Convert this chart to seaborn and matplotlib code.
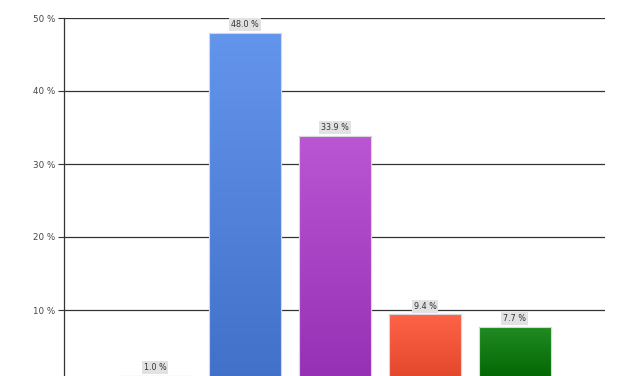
import numpy as np
import pandas as pd
import matplotlib
matplotlib.use("Agg")
import matplotlib.pyplot as plt
import seaborn as sns
from matplotlib.colors import LinearSegmentedColormap

categories = ["Cat A", "Cat B", "Cat C", "Cat D", "Cat E"]
values = [1.0, 48.0, 33.9, 9.4, 7.7]
top_colors = ["#FFD700", "#6495ED", "#BA55D3", "#FF6347", "#228B22"]
bottom_colors = ["#DAA520", "#4070C8", "#9530B5", "#E0452A", "#006400"]
yticks = [10, 20, 30, 40, 50]
ytick_labels = ["10 %", "20 %", "30 %", "40 %", "50 %"]

sns.set_theme(style="white")
plt.rcParams['font.family'] = ['DejaVu Sans']

W, H = 627, 376
fig = plt.figure(figsize=(W / 100, H / 100), dpi=100)
ax = fig.add_axes([64 / W, (H - 383) / H, (605 - 64) / W, (383 - 18) / H])

df = pd.DataFrame({"cat": categories, "val": values})
sns.barplot(data=df, x="cat", y="val", hue="cat", palette=top_colors,
            legend=False, width=0.8, ax=ax, edgecolor="#d8d8d8", linewidth=0.8)

ax.set_xlim(-1.01, 5.0)
ax.set_ylim(0, 50)
ax.set_yticks(yticks)
ax.set_yticklabels(ytick_labels, fontsize=6.3, color="#444444")
ax.set_xticks([])
ax.set_xlabel("")
ax.set_ylabel("")
ax.yaxis.grid(True, color="#333333", linewidth=0.9)
ax.set_axisbelow(True)
ax.tick_params(axis="y", which="major", left=True, length=4.5, width=0.8,
               color="#333333", pad=2)
for s in ["top", "right", "bottom"]:
    ax.spines[s].set_visible(False)
ax.spines["left"].set_color("#333333")
ax.spines["left"].set_linewidth(0.9)

# gradients clipped to bars
grad = np.linspace(0, 1, 256).reshape(-1, 1)
for i, p in enumerate(ax.patches):
    x0, y0 = p.get_x(), p.get_y()
    w, h = p.get_width(), p.get_height()
    cmap = LinearSegmentedColormap.from_list("g%d" % i, [bottom_colors[i], top_colors[i]])
    im = ax.imshow(grad, extent=[x0, x0 + w, y0, y0 + h], origin="lower",
                   cmap=cmap, aspect="auto", zorder=p.get_zorder() + 0.1,
                   interpolation="bicubic")
    im.set_clip_path(p)
    ax.add_patch(plt.Rectangle((x0, y0), w, h, fill=False, edgecolor="#d8d8d8",
                               linewidth=0.8, zorder=p.get_zorder() + 0.2))

ax.set_xlim(-1.01, 5.0)
ax.set_ylim(0, 50)

for i, v in enumerate(values):
    ax.annotate(f"{v:.1f} %", xy=(i, v), xytext=(0, 2.6), textcoords="offset points",
                ha="center", va="bottom", fontsize=5.8, color="#333333",
                bbox=dict(boxstyle="square,pad=0.25", facecolor="#e2e2e2",
                          edgecolor="none"), zorder=10)

fig.savefig("out.png", dpi=100)
